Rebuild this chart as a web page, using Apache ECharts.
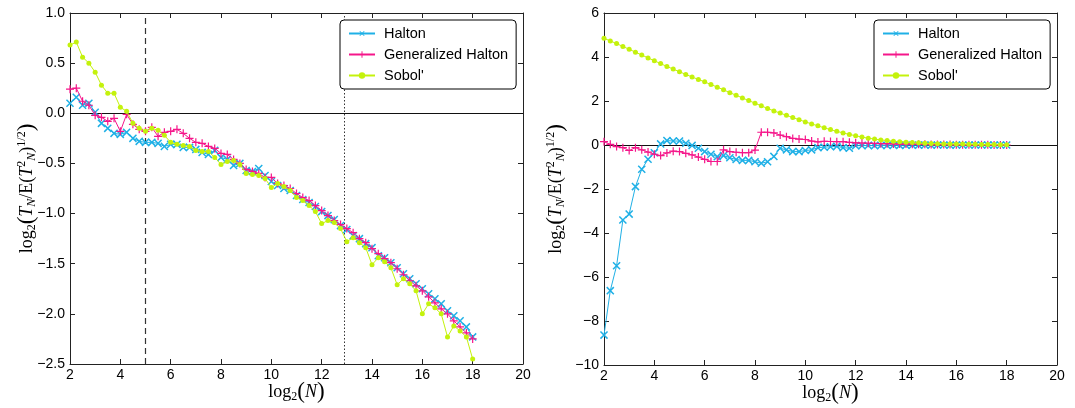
<!DOCTYPE html>
<html>
<head>
<meta charset="utf-8">
<script src="https://cdn.jsdelivr.net/npm/echarts@6/dist/echarts.min.js"></script>
<style>
html,body{margin:0;padding:0;background:#fff;}
#chart{width:1075px;height:408px;}
</style>
</head>
<body>
<div id="chart"></div>
<script>
// log2(N) sample positions
const logN = [2,2.25,2.5,2.75,3,3.25,3.5,3.75,4,4.25,4.5,4.75,5,5.25,5.5,5.75,6,6.25,6.5,6.75,7,7.25,7.5,7.75,8,8.25,8.5,8.75,9,9.25,9.5,9.75,10,10.25,10.5,10.75,11,11.25,11.5,11.75,12,12.25,12.5,12.75,13,13.25,13.5,13.75,14,14.25,14.5,14.75,15,15.25,15.5,15.75,16,16.25,16.5,16.75,17,17.25,17.5,17.75,18];

// Left panel
const leftHalton = [0.10,0.16,0.08,0.10,0.01,-0.10,-0.15,-0.20,-0.21,-0.19,-0.25,-0.28,-0.29,-0.29,-0.30,-0.33,-0.31,-0.31,-0.34,-0.34,-0.36,-0.39,-0.41,-0.37,-0.44,-0.46,-0.52,-0.50,-0.57,-0.58,-0.55,-0.62,-0.68,-0.72,-0.75,-0.77,-0.82,-0.86,-0.89,-0.93,-0.98,-1.02,-1.06,-1.12,-1.16,-1.22,-1.25,-1.30,-1.34,-1.42,-1.44,-1.49,-1.54,-1.60,-1.65,-1.70,-1.75,-1.80,-1.85,-1.90,-1.97,-2.02,-2.07,-2.13,-2.23];
const leftGenHalton = [0.24,0.25,0.12,0.08,-0.02,-0.04,-0.08,-0.05,-0.18,-0.01,-0.11,-0.16,-0.18,-0.14,-0.23,-0.19,-0.18,-0.16,-0.20,-0.25,-0.29,-0.30,-0.33,-0.35,-0.40,-0.41,-0.46,-0.50,-0.56,-0.58,-0.60,-0.64,-0.64,-0.70,-0.72,-0.75,-0.80,-0.84,-0.87,-0.92,-0.97,-1.02,-1.07,-1.11,-1.15,-1.19,-1.25,-1.29,-1.35,-1.40,-1.45,-1.49,-1.55,-1.61,-1.67,-1.72,-1.77,-1.83,-1.89,-1.95,-2.00,-2.07,-2.13,-2.19,-2.25];
const leftSobol = [0.68,0.71,0.56,0.50,0.41,0.28,0.20,0.20,0.06,0.02,-0.10,-0.15,-0.18,-0.15,-0.17,-0.22,-0.29,-0.31,-0.32,-0.33,-0.37,-0.38,-0.38,-0.44,-0.51,-0.48,-0.47,-0.51,-0.60,-0.61,-0.62,-0.65,-0.74,-0.70,-0.73,-0.77,-0.84,-0.87,-0.92,-0.98,-1.10,-1.07,-1.09,-1.15,-1.28,-1.24,-1.29,-1.34,-1.51,-1.44,-1.48,-1.54,-1.71,-1.65,-1.70,-1.77,-2.00,-1.90,-1.94,-2.00,-2.23,-2.12,-2.17,-2.23,-2.45];

// Right panel
const rightHalton = [-8.64,-6.62,-5.49,-3.41,-3.14,-1.89,-1.10,-0.65,-0.35,0.05,0.20,0.18,0.18,0.08,-0.02,-0.15,-0.30,-0.42,-0.53,-0.48,-0.58,-0.66,-0.70,-0.70,-0.76,-0.83,-0.76,-0.52,-0.15,-0.22,-0.30,-0.30,-0.25,-0.22,-0.12,-0.10,-0.08,-0.06,-0.12,-0.15,-0.03,-0.03,-0.02,-0.03,-0.02,-0.02,-0.01,-0.02,-0.01,-0.01,-0.01,0.00,-0.01,0.00,0.00,-0.01,0.00,0.00,0.00,0.00,0.00,0.00,0.00,0.00,0.00];
const rightGenHalton = [0.15,0.03,-0.07,-0.12,-0.25,-0.12,-0.22,-0.32,-0.42,-0.48,-0.36,-0.28,-0.30,-0.38,-0.45,-0.55,-0.65,-0.75,-0.75,-0.22,-0.30,-0.33,-0.35,-0.35,-0.23,0.58,0.58,0.55,0.45,0.38,0.30,0.27,0.25,0.18,0.14,0.17,0.16,0.15,0.15,0.12,0.10,0.09,0.08,0.07,0.06,0.06,0.05,0.04,0.04,0.03,0.03,0.03,0.02,0.02,0.02,0.02,0.01,0.01,0.01,0.01,0.01,0.01,0.00,0.00,0.00];
const rightSobol = [4.85,4.73,4.61,4.48,4.35,4.22,4.09,3.96,3.83,3.70,3.57,3.45,3.33,3.21,3.09,2.98,2.87,2.75,2.63,2.51,2.38,2.26,2.14,2.02,1.90,1.78,1.66,1.55,1.45,1.35,1.25,1.15,1.05,0.96,0.87,0.78,0.70,0.62,0.55,0.48,0.42,0.36,0.31,0.27,0.23,0.20,0.17,0.15,0.13,0.11,0.10,0.08,0.07,0.06,0.05,0.05,0.04,0.04,0.03,0.03,0.02,0.02,0.02,0.01,0.01];

const seriesNames = ['Halton', 'Generalized Halton', "Sobol'"];
const xTicks = [2,4,6,8,10,12,14,16,18,20];
const leftYTicks = [-2.5,-2.0,-1.5,-1.0,-0.5,0.0,0.5,1.0];
const rightYTicks = [-10,-8,-6,-4,-2,0,2,4,6];
const dashedX = 5;
const dottedX = 12.91;

const colors = ['#1fb0e6', '#f5168a', '#c4f20c'];
const plusPath = 'path://M4.25,0H5.75V10H4.25Z M0,4.25H10V5.75H0Z';
const symbols = [plusPath, plusPath, 'circle'];
const symbolRot = [45, 0, 0];
const symbolSizes = [10, 8, 5];

const fmtMinus = s => String(s).replace('-', '\u2212');
const tickFont = {fontFamily: 'Liberation Sans, Arial, sans-serif', fontSize: 14, color: '#000'};
const axisColor = '#222';

function pair(ys) { return logN.map((x, i) => [x, ys[i]]); }

const serif = 'Liberation Serif, DejaVu Serif, serif';
const rich = {
  r: {fontFamily: serif, fontSize: 18, color: '#000', lineHeight: 28, verticalAlign: 'middle'},
  i: {fontFamily: serif, fontSize: 18, fontStyle: 'italic', color: '#000', lineHeight: 28, verticalAlign: 'middle'},
  b: {fontFamily: serif, fontSize: 23, color: '#000', lineHeight: 28, verticalAlign: 'middle'},
  s: {fontFamily: serif, fontSize: 12, color: '#000', verticalAlign: 'bottom', lineHeight: 28, padding: [0,0,3,0]},
  si: {fontFamily: serif, fontSize: 12, fontStyle: 'italic', color: '#000', verticalAlign: 'bottom', lineHeight: 28, padding: [0,0,3,0]},
  p: {fontFamily: serif, fontSize: 12, color: '#000', verticalAlign: 'top', lineHeight: 28, padding: [3,0,0,0]}
};
const xName = '{r|log}{s|2}{b|(}{i|N}{b|)}';
const yName = '{r|log}{s|2}{b|(}{i|T}{si|N}{r|/E(}{i|T}{p|2}{si|N}{r|)}{p|1/2}{b|)}';

const grids = [
  {left: 70, top: 13, width: 453, height: 351, outerBoundsMode: 'none', containLabel: false},
  {left: 604, top: 13, width: 453, height: 352, outerBoundsMode: 'none', containLabel: false}
];

function mainX(gi) {
  return {
    type: 'value', gridIndex: gi, min: 2, max: 20, interval: 2, position: 'bottom',
    name: xName, nameLocation: 'middle', nameGap: 14, nameMoveOverlap: false, nameTextStyle: {rich: rich},
    axisLine: {show: true, onZero: false, lineStyle: {color: axisColor, width: 1}},
    axisTick: {show: true, inside: true, length: 5, lineStyle: {color: axisColor}},
    axisLabel: Object.assign({margin: 4, formatter: v => xTicks.includes(v) ? String(v) : ''}, tickFont),
    splitLine: {show: false}
  };
}
function topX(gi) {
  return {
    type: 'value', gridIndex: gi, min: 2, max: 20, interval: 2, position: 'top',
    axisLine: {show: true, onZero: false, lineStyle: {color: axisColor, width: 1}},
    axisTick: {show: true, inside: true, length: 5, lineStyle: {color: axisColor}},
    axisLabel: {show: false}, splitLine: {show: false}
  };
}
function mainY(gi, min, max, interval, fmt, gap) {
  return {
    type: 'value', gridIndex: gi, min: min, max: max, interval: interval, position: 'left',
    name: yName, nameLocation: 'middle', nameRotate: 90, nameGap: gap, nameMoveOverlap: false, nameTextStyle: {rich: rich},
    axisLine: {show: true, onZero: false, lineStyle: {color: axisColor, width: 1}},
    axisTick: {show: true, inside: true, length: 5, lineStyle: {color: axisColor}},
    axisLabel: Object.assign({margin: 5, formatter: fmt}, tickFont),
    splitLine: {show: false}
  };
}
function rightY(gi, min, max, interval) {
  return {
    type: 'value', gridIndex: gi, min: min, max: max, interval: interval, position: 'right',
    axisLine: {show: true, onZero: false, lineStyle: {color: axisColor, width: 1}},
    axisTick: {show: true, inside: true, length: 5, lineStyle: {color: axisColor}},
    axisLabel: {show: false}, splitLine: {show: false}
  };
}

const leftFmt = v => fmtMinus(v.toFixed(1));
const rightFmt = v => fmtMinus(String(Math.round(v)));

const panelData = [
  [leftHalton, leftGenHalton, leftSobol],
  [rightHalton, rightGenHalton, rightSobol]
];

const series = [];
panelData.forEach((set, p) => {
  set.forEach((ys, k) => {
    const s = {
      name: seriesNames[k], type: 'line', xAxisIndex: p * 2, yAxisIndex: p * 2,
      data: pair(ys), symbol: symbols[k], symbolSize: symbolSizes[k], symbolRotate: symbolRot[k],
      showSymbol: true, clip: false, z: 3 + k,
      lineStyle: {color: colors[k], width: 1},
      itemStyle: {color: colors[k], borderWidth: 0},
      emphasis: {disabled: true}
    };
    if (k === 0) {
      const lines = [{yAxis: 0, lineStyle: {type: 'solid', color: '#111', width: 1}}];
      if (p === 0) {
        lines.push({xAxis: dashedX, lineStyle: {type: [6, 4], color: '#333', width: 1.2}});
        lines.push({xAxis: dottedX, lineStyle: {type: [1.5, 2], color: '#333', width: 1}});
      }
      s.markLine = {silent: true, symbol: 'none', label: {show: false}, animation: false, z: 2, data: lines};
    }
    series.push(s);
  });
});

function legendAt(left) {
  return {
    left: left, top: 20, orient: 'vertical', data: seriesNames,
    itemWidth: 26, itemHeight: 8, itemGap: 6,
    padding: [6, 8, 6, 8],
    backgroundColor: '#fff', borderColor: '#000', borderWidth: 1, borderRadius: 4,
    textStyle: {fontFamily: 'Liberation Sans, Arial, sans-serif', fontSize: 14.5, color: '#000', padding: [0,0,0,4]},
    selectedMode: false
  };
}

const chart = echarts.init(document.getElementById('chart'), null, {renderer: 'canvas'});
chart.setOption({
  animation: false,
  backgroundColor: '#fff',
  grid: grids,
  xAxis: [mainX(0), topX(0), mainX(1), topX(1)],
  yAxis: [
    mainY(0, -2.5, 1.0, 0.5, leftFmt, 29), rightY(0, -2.5, 1.0, 0.5),
    mainY(1, -10, 6, 2, rightFmt, 34), rightY(1, -10, 6, 2)
  ],
  legend: [legendAt(340), legendAt(874)],
  series: series
});
</script>
</body>
</html>
